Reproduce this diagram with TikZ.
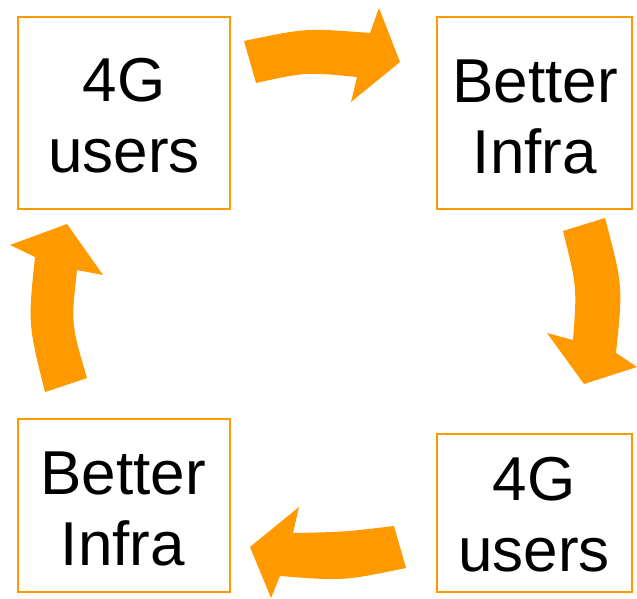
\documentclass[tikz,border=0pt]{standalone}
\usepackage{fontspec}
\setmainfont{Liberation Sans}
\definecolor{arroworange}{RGB}{255,153,0}
\begin{document}
\begin{tikzpicture}[x=1pt,y=-1pt,
  box/.style={draw=arroworange,line width=1.2pt,inner sep=0pt,outer sep=0pt},
  lbl/.style={align=center,inner sep=0pt,font=\fontsize{62}{71}\selectfont},
  blockarrow/.style={fill=arroworange,draw=none}]
\useasboundingbox (0,0) rectangle (637,599);
\fill[white] (0,0) rectangle (637,599);
% boxes
\node[box,minimum width=212pt,minimum height=192pt] (b1) at (124,113) {};
\node[box,minimum width=195pt,minimum height=192pt] (b2) at (534.5,113) {};
\node[box,minimum width=212pt,minimum height=173pt] (b3) at (124,505.5) {};
\node[box,minimum width=195pt,minimum height=158pt] (b4) at (534.5,513) {};
% labels
\node[lbl] (t1) at (124,116) {4G\\users};
\node[lbl] (t2) at (535,117) {Better\\Infra};
\node[lbl] (t3) at (123,509) {Better\\Infra};
\node[lbl] (t4) at (534,515) {4G\\users};
% arrows
\fill[blockarrow] (244,41) .. controls (306,28) .. (370,33) -- (379,8) -- (400,62)
  -- (351,102) -- (357,77) .. controls (306,72) .. (256,83) -- cycle;
\fill[blockarrow] (605,218) .. controls (623,286) .. (616,353) -- (637,367) -- (584,384)
  -- (547,333) -- (573,340) .. controls (577,287) .. (563,231) -- cycle;
\fill[blockarrow] (394,526) .. controls (344,532) .. (293,533) -- (299,507) -- (250,547)
  -- (271,598) -- (280,576) .. controls (343,581) .. (406,568) -- cycle;
\fill[blockarrow] (45,392) .. controls (28,324) .. (35,257) -- (10,245) -- (67,224)
  -- (103,275) -- (77,270) .. controls (71,324) .. (87,378) -- cycle;
\end{tikzpicture}
\end{document}
